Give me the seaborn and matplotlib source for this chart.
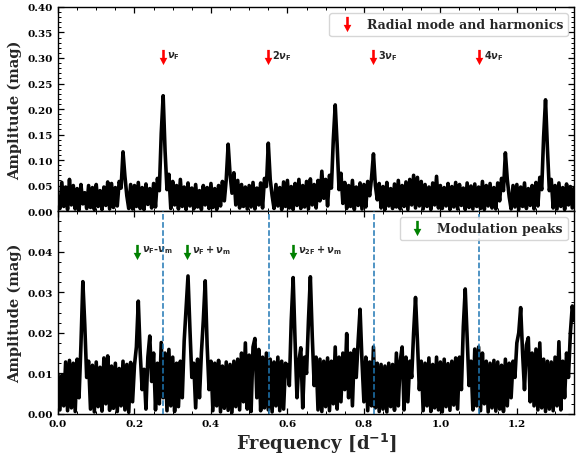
import numpy as np
import pandas as pd
import seaborn as sns
import matplotlib
matplotlib.use("Agg")
import matplotlib.pyplot as plt
from matplotlib.path import Path
from matplotlib.lines import Line2D
from matplotlib.ticker import MultipleLocator, AutoMinorLocator

# ---------------- data ----------------
freq_step = 0.005  # d^-1, sampling of the amplitude lists below

# Top panel amplitude, units of 1e-3 mag
top_amp_milli = [
    28, 5, 56, 9, 47, 3, 62, 12, 50, 4,
    44, 2, 52, 14, 36, 5, 50, 7, 46, 3,
    52, 9, 40, 3, 47, 11, 57, 4, 54, 7,
    46, 10, 58, 45, 116, 68, 30, 5, 52, 4,
    50, 9, 56, 5, 46, 3, 53, 13, 44, 6,
    54, 8, 64, 40, 152, 226, 118, 42, 72, 5,
    58, 12, 50, 4, 62, 9, 47, 3, 55, 10,
    45, 4, 52, 8, 40, 3, 50, 12, 46, 5,
    54, 7, 44, 3, 50, 10, 58, 20, 62, 131,
    72, 35, 75, 12, 60, 6, 52, 9, 47, 4,
    50, 8, 56, 4, 45, 12, 55, 6, 64, 48,
    133, 62, 30, 5, 52, 10, 46, 3, 57, 9,
    60, 6, 48, 3, 54, 11, 62, 5, 50, 8,
    58, 4, 63, 12, 52, 6, 60, 20, 78, 25,
    62, 10, 70, 45, 140, 208, 130, 42, 74, 15,
    56, 5, 50, 9, 60, 3, 47, 11, 55, 4,
    52, 8, 58, 30, 65, 112, 50, 22, 54, 6,
    48, 3, 56, 10, 44, 5, 53, 8, 60, 4,
    50, 9, 57, 3, 62, 12, 70, 6, 66, 10,
    58, 4, 52, 9, 47, 3, 55, 12, 68, 6,
    50, 5, 46, 10, 54, 3, 48, 8, 56, 4,
    52, 11, 45, 3, 55, 7, 49, 4, 53, 9,
    47, 5, 58, 3, 50, 10, 54, 6, 46, 4,
    55, 20, 64, 40, 114, 62, 28, 4, 50, 8,
    52, 3, 47, 9, 55, 5, 44, 11, 50, 4,
    56, 10, 66, 42, 145, 218, 122, 40, 62, 6,
    50, 4, 55, 9, 46, 3, 53, 12, 48, 6,
    45,
]

# Bottom panel amplitude, units of 1e-4 mag
bottom_amp_e4 = [
    98, 10, 95, 20, 128, 8, 132, 15, 125, 6,
    135, 40, 170, 326, 220, 90, 130, 12, 120, 5,
    128, 18, 115, 7, 138, 25, 143, 9, 118, 14,
    125, 6, 112, 20, 130, 10, 122, 4, 127, 30,
    120, 165, 278, 150, 60, 110, 12, 140, 192, 80,
    150, 10, 125, 25, 176, 40, 150, 8, 159, 20,
    140, 6, 125, 18, 130, 40, 180, 260, 340, 210,
    90, 125, 15, 135, 40, 150, 230, 328, 170, 60,
    130, 8, 125, 20, 132, 5, 118, 14, 128, 9,
    122, 4, 130, 18, 135, 10, 150, 30, 175, 12,
    145, 6, 165, 186, 40, 159, 8, 140, 15, 150,
    10, 135, 5, 128, 20, 140, 8, 130, 12, 125,
    120, 70, 230, 336, 180, 40, 130, 163, 15, 140,
    100, 230, 338, 190, 70, 140, 10, 135, 6, 130,
    18, 138, 8, 130, 25, 165, 12, 140, 30, 150,
    60, 198, 40, 150, 20, 159, 90, 180, 258, 130,
    30, 140, 8, 128, 20, 165, 15, 125, 6, 122,
    12, 118, 5, 125, 18, 122, 9, 150, 20, 130,
    165, 10, 140, 30, 130, 90, 200, 287, 180, 60,
    130, 8, 125, 20, 138, 6, 122, 15, 140, 10,
    128, 5, 135, 18, 124, 9, 130, 22, 138, 12,
    140, 60, 215, 308, 190, 70, 130, 10, 160, 20,
    165, 8, 150, 25, 130, 5, 125, 15, 132, 7,
    128, 12, 120, 6, 135, 20, 125, 40, 130, 90,
    175, 200, 262, 150, 60, 170, 188, 30, 150, 20,
    160, 10, 175, 15, 135, 6, 130, 12, 128, 8,
    140, 20, 178, 10, 130, 40, 150, 90, 200, 266,
    230,
]

nu_F = 0.2755
harmonic_orders = [1, 2, 3, 4]
harmonic_labels = [r"$\nu_\mathrm{F}$", r"$2\nu_\mathrm{F}$",
                   r"$3\nu_\mathrm{F}$", r"$4\nu_\mathrm{F}$"]
harmonic_arrow_x = [0.274, 0.548, 0.824, 1.101]
harmonic_arrow_y = 0.301

mod_arrow_x = [0.207, 0.337, 0.614]
mod_labels = [r"$\nu_\mathrm{F}$-$\nu_\mathrm{m}$",
              r"$\nu_\mathrm{F}+\nu_\mathrm{m}$",
              r"$\nu_\mathrm{2F}+\nu_\mathrm{m}$"]
mod_arrow_y = 0.0399

top_df = pd.DataFrame({"freq": np.arange(len(top_amp_milli)) * freq_step,
                       "amp": np.array(top_amp_milli) / 1000.0})
bot_df = pd.DataFrame({"freq": np.arange(len(bottom_amp_e4)) * freq_step,
                       "amp": np.array(bottom_amp_e4) / 10000.0})

# ---------------- style ----------------
sns.set_style("ticks")
plt.rcParams.update({
    "font.family": ["DejaVu Serif"],
    "font.weight": "bold",
    "axes.labelweight": "bold",
    "mathtext.fontset": "custom",
    "mathtext.rm": "DejaVu Sans:bold",
    "mathtext.it": "DejaVu Sans:bold:italic",
    "mathtext.bf": "DejaVu Sans:bold",
    "xtick.direction": "in",
    "ytick.direction": "in",
    "xtick.top": True,
    "ytick.right": True,
    "axes.edgecolor": "black",
    "axes.linewidth": 1.0,
    "xtick.color": "black",
    "ytick.color": "black",
})

arrow_path = Path(
    [(-0.17, 1.0), (0.17, 1.0), (0.17, -0.05), (0.5, -0.05), (0.0, -1.0),
     (-0.5, -0.05), (-0.17, -0.05), (-0.17, 1.0)],
    [Path.MOVETO] + [Path.LINETO] * 6 + [Path.CLOSEPOLY])

fig = plt.figure(figsize=(5.8, 4.56), dpi=100)
ax1 = fig.add_axes([0.100, 0.535, 0.890, 0.4475])
ax2 = fig.add_axes([0.100, 0.090, 0.890, 0.445], sharex=ax1)

for ax in (ax1, ax2):
    ax.tick_params(which="both", direction="in", top=True, right=True,
                   labelsize=7.5)
    ax.tick_params(which="major", length=4, width=0.9)
    ax.tick_params(which="minor", length=2, width=0.7)
    ax.xaxis.set_major_locator(MultipleLocator(0.2))
    ax.xaxis.set_minor_locator(AutoMinorLocator(4))

# top panel
sns.lineplot(data=top_df, x="freq", y="amp", ax=ax1, color="black",
             lw=2.6, estimator=None, sort=False)
ax1.set_ylim(0, 0.40)
ax1.yaxis.set_major_locator(MultipleLocator(0.05))
ax1.yaxis.set_minor_locator(AutoMinorLocator(5))
ax1.set_xlabel("")
ax1.set_ylabel("Amplitude (mag)", fontsize=10.5, fontweight="bold")
plt.setp(ax1.get_xticklabels(), visible=False)
ax1.scatter(harmonic_arrow_x, [harmonic_arrow_y] * len(harmonic_arrow_x),
            marker=arrow_path, s=120, color="red", linewidths=0, zorder=5)
for x, lab in zip(harmonic_arrow_x, harmonic_labels):
    ax1.text(x + 0.012, harmonic_arrow_y + 0.004, lab, fontsize=7,
             va="center", ha="left")
h1 = Line2D([], [], marker=arrow_path, color="red", ls="none",
            markersize=11, markeredgewidth=0)
ax1.legend([h1], ["Radial mode and harmonics"], loc="upper right",
           prop={"family": "DejaVu Serif", "weight": "bold", "size": 9},
           borderaxespad=0.5, handletextpad=0.6)

# bottom panel
sns.lineplot(data=bot_df, x="freq", y="amp", ax=ax2, color="black",
             lw=2.6, estimator=None, sort=False)
for k in harmonic_orders:
    ax2.axvline(k * nu_F, color="#1f77b4", ls="--", lw=1.1, zorder=4)
ax2.set_ylim(0, 0.05)
ax2.yaxis.set_major_locator(MultipleLocator(0.01))
ax2.yaxis.set_minor_locator(AutoMinorLocator(4))
ax2.set_yticks([0.0, 0.01, 0.02, 0.03, 0.04])
ax2.set_xlim(0, 1.35)
ax2.set_ylabel("Amplitude (mag)", fontsize=10.5, fontweight="bold")
ax2.set_xlabel(r"Frequency [d$^{-1}$]", fontsize=13, fontweight="bold",
               labelpad=2)
ax2.scatter(mod_arrow_x, [mod_arrow_y] * len(mod_arrow_x),
            marker=arrow_path, s=120, color="green", linewidths=0, zorder=5)
for x, lab in zip(mod_arrow_x, mod_labels):
    ax2.text(x + 0.013, mod_arrow_y + 0.0006, lab, fontsize=7,
             va="center", ha="left")
h2 = Line2D([], [], marker=arrow_path, color="green", ls="none",
            markersize=11, markeredgewidth=0)
ax2.legend([h2], ["Modulation peaks"], loc="upper right",
           prop={"family": "DejaVu Serif", "weight": "bold", "size": 9},
           borderaxespad=0.5, handletextpad=0.6)

for lab in ax1.get_yticklabels() + ax2.get_yticklabels() + ax2.get_xticklabels():
    lab.set_fontweight("bold")
    lab.set_family("DejaVu Serif")

fig.savefig("out.png", dpi=100)
